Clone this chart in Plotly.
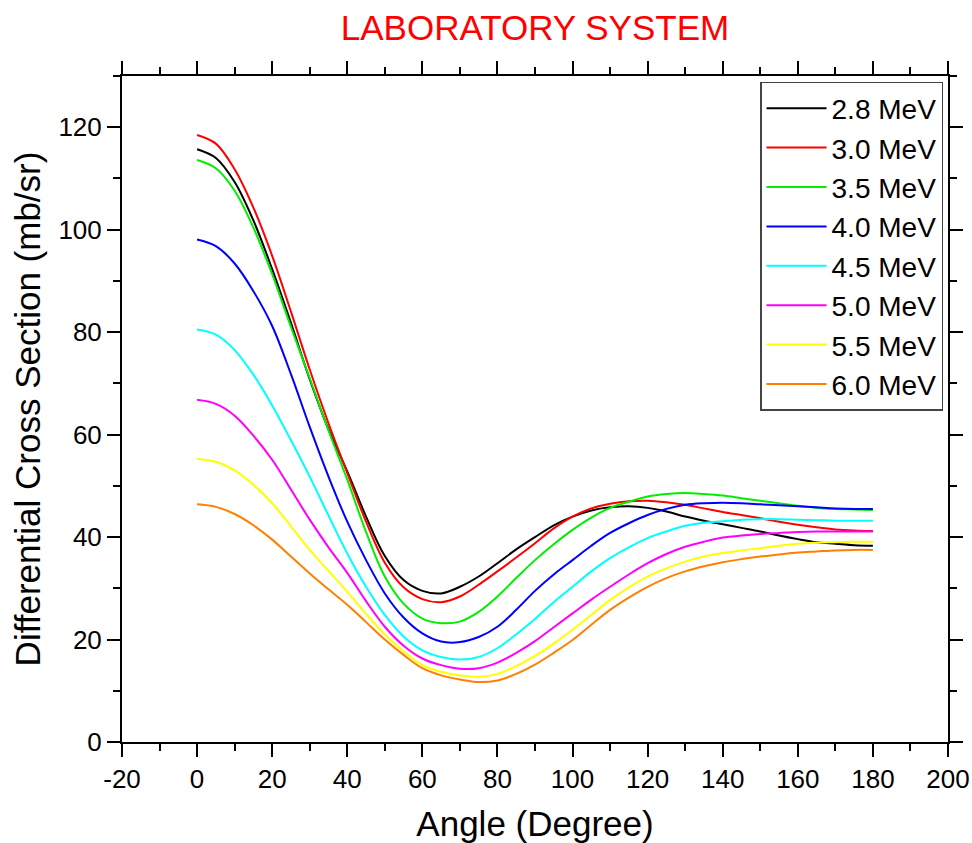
import plotly.graph_objects as go

# Scattering angle grid (degrees, laboratory frame)
angles = list(range(0, 181, 5))

# Differential cross sections (mb/sr) for each beam energy
xs_2_8 = [115.7, 114.0, 109.3, 101.8, 92.3, 81.8, 70.8, 61.0, 52.8, 44.0, 36.3, 31.6, 29.5, 29.0, 30.3, 32.3, 34.9, 37.6, 40.0,
          42.3, 44.0, 45.2, 45.8, 46.0, 45.7, 45.0, 44.0, 43.2, 42.5, 41.8, 41.1, 40.3, 39.6, 39.0, 38.7, 38.4, 38.3]
xs_3_0 = [118.5, 116.8, 111.8, 104.3, 94.9, 84.0, 72.7, 62.2, 52.5, 43.0, 35.0, 30.2, 27.9, 27.3, 28.4, 30.7, 33.3, 36.0, 38.8,
          41.7, 44.0, 45.6, 46.5, 47.0, 47.1, 46.8, 46.3, 45.6, 44.9, 44.3, 43.7, 43.0, 42.4, 41.9, 41.5, 41.3, 41.2]
xs_3_5 = [113.6, 112.0, 107.6, 100.4, 91.3, 81.0, 71.0, 60.8, 51.2, 41.0, 32.3, 27.0, 24.1, 23.2, 23.5, 25.4, 28.4, 32.0, 35.5,
          38.6, 41.4, 43.8, 45.7, 46.9, 47.9, 48.4, 48.6, 48.4, 48.1, 47.6, 47.1, 46.6, 46.1, 45.7, 45.5, 45.4, 45.3]
xs_4_0 = [98.1, 96.8, 93.4, 88.0, 81.2, 71.8, 61.5, 51.8, 43.0, 35.5, 29.0, 24.3, 21.2, 19.6, 19.5, 20.5, 22.5, 25.8, 29.5,
          32.7, 35.5, 38.3, 40.8, 42.7, 44.3, 45.5, 46.3, 46.6, 46.7, 46.6, 46.4, 46.2, 46.0, 45.8, 45.6, 45.5, 45.5]
xs_4_5 = [80.5, 79.5, 76.5, 71.7, 65.7, 58.9, 51.8, 44.2, 36.8, 30.3, 24.8, 20.6, 17.9, 16.6, 16.1, 16.6, 18.3, 21.0, 24.0,
          27.3, 30.3, 33.3, 35.9, 38.0, 39.8, 41.1, 42.2, 42.8, 43.1, 43.4, 43.5, 43.5, 43.4, 43.3, 43.2, 43.2, 43.2]
xs_5_0 = [66.8, 66.0, 63.7, 59.8, 55.1, 49.3, 43.4, 38.0, 33.0, 27.5, 22.5, 18.8, 16.3, 15.0, 14.3, 14.4, 15.5, 17.4, 19.7,
          22.4, 25.1, 27.8, 30.3, 32.7, 34.9, 36.7, 38.1, 39.1, 39.9, 40.3, 40.6, 40.8, 41.0, 41.1, 41.1, 41.1, 41.1]
xs_5_5 = [55.3, 54.7, 53.0, 50.2, 46.6, 42.1, 37.5, 33.4, 29.3, 25.0, 21.0, 17.7, 15.0, 13.7, 13.0, 12.7, 13.3, 14.8, 16.8,
          19.2, 21.9, 24.8, 27.7, 30.2, 32.3, 33.9, 35.2, 36.2, 36.9, 37.4, 37.8, 38.3, 38.7, 38.9, 39.0, 39.1, 39.1]
xs_6_0 = [46.4, 45.9, 44.5, 42.3, 39.5, 36.2, 32.9, 29.8, 26.8, 23.4, 20.0, 17.0, 14.4, 13.0, 12.2, 11.7, 12.0, 13.3, 15.1,
          17.4, 19.9, 22.9, 25.8, 28.2, 30.3, 32.0, 33.3, 34.3, 35.1, 35.7, 36.2, 36.6, 37.0, 37.2, 37.4, 37.5, 37.5]

energy_labels = ["2.8 MeV", "3.0 MeV", "3.5 MeV", "4.0 MeV", "4.5 MeV", "5.0 MeV", "5.5 MeV", "6.0 MeV"]
series = [xs_2_8, xs_3_0, xs_3_5, xs_4_0, xs_4_5, xs_5_0, xs_5_5, xs_6_0]
colors = ["#000000", "#FF0000", "#00EE00", "#0000FF", "#00FFFF", "#FF00FF", "#FFFF00", "#FF8000"]

# Axis tick labels (plain hyphen for negatives)
x_tick_vals = [-20, 0, 20, 40, 60, 80, 100, 120, 140, 160, 180, 200]
x_tick_text = ["-20", "0", "20", "40", "60", "80", "100", "120", "140", "160", "180", "200"]
y_tick_vals = [0, 20, 40, 60, 80, 100, 120]
y_tick_text = ["0", "20", "40", "60", "80", "100", "120"]

FONT = "Liberation Sans, Arial, sans-serif"

fig = go.Figure()
for label, values, color in zip(energy_labels, series, colors):
    fig.add_trace(go.Scatter(
        x=angles, y=values, name=label, mode="lines",
        line=dict(color=color, width=2, shape="spline", smoothing=1.0),
    ))

axis_common = dict(
    showgrid=False, zeroline=False, automargin=False,
    showline=True, linecolor="black", linewidth=2,
    mirror="ticks", ticks="outside", ticklen=13, tickwidth=2, tickcolor="black",
    tickfont=dict(family=FONT, size=26, color="black"),
    tickmode="array",
    minor=dict(ticks="outside", ticklen=7, tickwidth=2, tickcolor="black", dtick=10, tick0=0),
)

fig.update_xaxes(
    range=[-20, 200], tickvals=x_tick_vals, ticktext=x_tick_text,
    title=dict(text="Angle (Degree)", font=dict(family=FONT, size=35, color="black"), standoff=20),
    **axis_common,
)
fig.update_yaxes(
    range=[0, 130], tickvals=y_tick_vals, ticktext=y_tick_text,
    title=dict(text="Differential Cross Section (mb/sr)", font=dict(family=FONT, size=35, color="black"), standoff=7),
    **axis_common,
)

fig.update_layout(
    width=972, height=843,
    margin=dict(l=122, r=24, t=76, b=101),
    paper_bgcolor="white", plot_bgcolor="white",
    title=dict(text="LABORATORY SYSTEM", font=dict(family=FONT, size=35, color="#FF0000"),
               x=0.5, xref="paper", xanchor="center", y=1 - 28 / 843, yref="container", yanchor="middle"),
    showlegend=True,
    legend=dict(
        x=0.994, xanchor="right", y=0.991, yanchor="top",
        bgcolor="white", bordercolor="#444444", borderwidth=1.5,
        font=dict(family=FONT, size=28, color="black"),
        itemwidth=60, tracegroupgap=0,
    ),
)

fig.write_html("out.html")
